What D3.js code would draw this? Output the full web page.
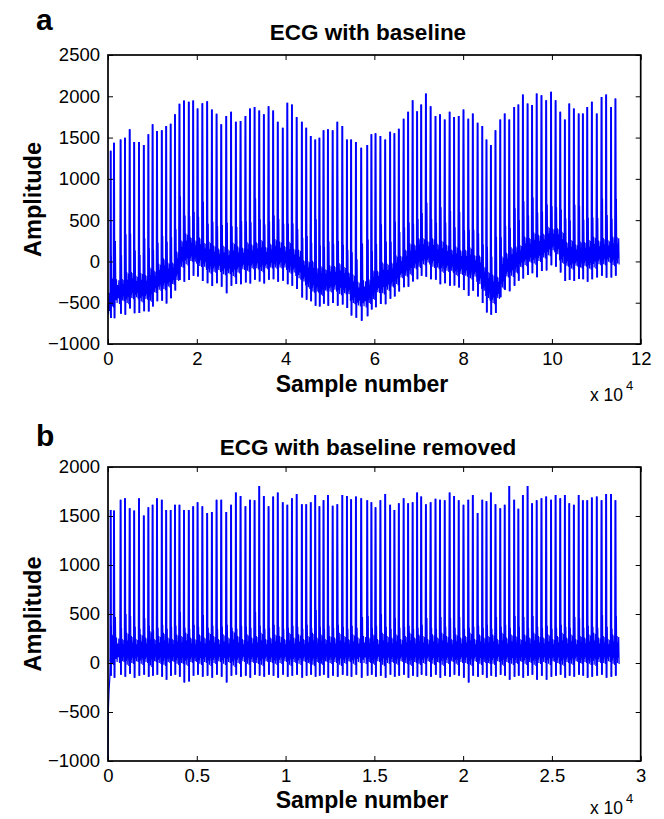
<!DOCTYPE html>
<html><head><meta charset="utf-8">
<script src="https://cdn.jsdelivr.net/npm/d3@7"></script>
<style>
body{margin:0;background:#fff}
svg{display:block}
text{font-family:"Liberation Sans",Arial,Helvetica,sans-serif;fill:#000}
</style>
</head><body>
<svg id="chart" width="664" height="819"></svg>
<script>
// ---------- DATA ----------
// R-peak sample positions in the baseline-removed record (panel b, x1e4 axis up to 3);
// panel a is the same recording at 4x the sampling.
const beatSampleB = [150,338,709,957,1220,1475,1745,2016,2275,2511,2759,3029,3277,3528,3772,4025,4279,4549,4797,5044,
 5315,5585,5850,6114,6379,6660,6931,7201,7465,7741,7995,8254,8518,8777,9042,9301,9560,9841,10100,10359,
 10624,10917,11164,11418,11671,11907,12138,12386,12651,12915,13197,13456,13692,13962,14261,14600,14835,15066,15342,15612,
 15888,16130,16378,16648,16902,17155,17408,17639,17903,18168,18444,18697,18962,19238,19491,19750,20020,20291,20544,20814,
 21079,21315,21563,21822,22092,22340,22599,22875,23112,23365,23629,23882,24141,24412,24677,24952,25206,25470,25729,25977,
 26236,26506,26743,26990,27249,27525,27795,28054,28330,28578];
const sampleFactorA = 4;
const endSampleB = 28798;

// Panel a: R-peak amplitudes
const rPeakA = [1339,1438,1478,1499,1600,1447,1447,1411,1540,1660,1579,1588,1640,1668,1781,1909,1949,1933,1949,1853,
 1917,1941,1841,1788,1660,1760,1812,1691,1700,1760,1853,1869,1828,1781,1880,1828,1691,1619,
 1921,1901,1748,1691,1619,1519,1478,1499,1588,1600,1588,1691,1640,1478,1478,1447,1378,1411,1540,1551,
 1519,1478,1571,1551,1608,1728,1812,1953,1820,1901,2034,1880,1760,1781,1720,1812,1750,
 1760,1841,1728,1793,1679,1640,1478,1411,1588,1720,1793,1720,1869,1901,2022,1913,1893,2034,2013,1953,
 2054,1953,1812,1720,1913,1853,1793,1793,1869,1933,1793,1990,2022,1869,1974];
// Panel a: wandering baseline (centre of the dense band) at each beat
const baseA = [-420,-400,-380,-370,-330,-340,-360,-350,-330,-280,-230,-200,-200,-180,-100,50,100,110,90,70,
 40,0,-10,-10,-30,-40,-30,-20,0,10,20,30,20,10,30,50,40,20,0,-30,
 -80,-150,-200,-230,-260,-280,-260,-250,-240,-260,-270,-300,-380,-430,-430,-400,-330,-280,-250,-230,
 -200,-150,-100,-60,-20,20,60,80,80,60,30,10,0,-20,-40,-50,-60,-70,-90,-150,
 -250,-330,-380,-350,-180,-80,-50,-20,30,80,100,110,120,150,200,230,200,120,50,40,
 40,40,50,40,60,70,80,90,80,90];
const startA = [[0,-520],[120,-640],[250,-380],[380,-600],[480,-450]];

// Panel b: R-peak amplitudes
const rPeakB = [1560,1555,1665,1680,1580,1555,1680,1505,1590,1615,1680,1665,1560,1560,1615,1615,1560,1560,1600,1640,
 1600,1530,1540,1665,1665,1540,1615,1740,1705,1600,1665,1660,1805,1705,1600,1700,1740,1640,1615,1680,
 1725,1620,1620,1640,1715,1600,1660,1715,1605,1620,1715,1705,1670,1700,1680,
 1660,1640,1590,1660,1725,1615,1560,1630,1680,1630,1640,1740,1700,1620,1640,1675,1665,1660,1740,1705,
 1660,1615,1665,1715,1530,1665,1650,1740,1620,1580,1615,1805,1665,1575,1715,1805,1630,1660,1680,1700,
 1665,1715,1680,1715,1630,1615,1715,1660,1660,1690,1700,1660,1725,1725,1660];
// S-wave troughs and T-wave tops (panel b units)
const sTroughB = [-130,-150,-120,-140,-110,-150,-130,-120,-140,-130,-120,-140,-170,-130,-120,-140,-200,-190,-130,-120,
 -140,-130,-150,-120,-140,-200,-130,-120,-140,-130,-150,-120,-130,-140,-120,-130,-150,-120,-140,-130,
 -120,-150,-130,-120,-140,-130,-120,-150,-130,-140,-120,-130,-140,-120,-150,
 -130,-120,-140,-130,-150,-120,-140,-130,-120,-150,-130,-140,-120,-130,-140,-120,-150,-130,-140,-120,
 -130,-150,-200,-130,-140,-120,-150,-130,-140,-120,-130,-170,-140,-130,-150,-130,-120,-170,-130,-170,
 -140,-130,-120,-150,-130,-140,-120,-130,-150,-140,-130,-120,-150,-140,-130];
const tWaveB = [380,470,360,500,480,370,350,460,380,340,360,390,350,370,380,520,360,350,390,370,
 490,360,380,350,370,390,360,350,380,370,360,520,380,350,360,390,370,350,360,380,
 370,350,390,360,540,370,350,380,360,390,370,350,380,360,470,
 480,360,380,500,370,350,460,360,370,380,350,360,390,460,360,350,470,370,460,360,
 470,350,360,370,380,360,390,350,470,370,390,360,480,370,470,360,480,370,360,380,
 350,360,390,370,360,470,460,360,380,370,360,490,370,350,480];
// Size of the small oscillations between beats (relative), estimated per beat
const noiseAmpB = [1.2,1.0,0.9,1.3,1.1,0.9,1.2,1.0,1.4,0.9,1.1,1.3,1.0,0.9,1.2,1.1,1.3,1.0,0.9,1.2,
 1.0,1.3,1.1,0.9,1.2,1.0,1.4,1.1,0.9,1.2,1.0,1.1,1.3,0.9,1.0,1.2,1.1,0.9,1.3,1.0,
 1.2,0.9,1.1,1.3,1.0,1.2,0.9,1.1,1.0,1.3,1.1,0.9,1.2,1.0,1.1,
 1.0,1.2,0.9,1.3,1.1,1.0,1.2,0.9,1.1,1.3,1.0,1.2,1.1,0.9,1.2,1.0,1.3,1.1,0.9,1.2,
 1.0,1.1,1.3,0.9,1.2,1.0,1.1,1.2,0.9,1.3,1.0,1.2,1.1,0.9,1.2,1.0,1.3,1.1,1.0,1.2,
 0.9,1.1,1.3,1.0,1.2,0.9,1.1,1.0,1.2,1.3,1.0,1.1,0.9,1.2,1.1];
const startB = [[0,-1000],[25,-450],[60,-280],[100,-160],[125,40]];

// Shape of one cardiac cycle between R peaks (fraction of RR interval, level); R/S/T come from the arrays above
const cycleFrac  = [-0.07, 0, 0.08, 0.15, 0.21, 0.29, 0.38, 0.47, 0.56, 0.65, 0.74, 0.83, 0.91];
const cycleLevel = [30, "R", "S", 210, "T", 40, 260, 10, 200, 60, 250, 0, 160];
const bandLevelB = 100;
const bandGainA = 1.15;
const tGainA = 1.75;

// Axes
const yTicksA = [-1000,-500,0,500,1000,1500,2000,2500];
const yTicksB = [-1000,-500,0,500,1000,1500,2000];
const xTicksA = [0,20000,40000,60000,80000,100000,120000];
const xTickLabelsA = ["0","2","4","6","8","10","12"];
const xTicksB = [0,5000,10000,15000,20000,25000,30000];
const xTickLabelsB = ["0","0.5","1","1.5","2","2.5","3"];

// ---------- BUILD ----------
function buildSeries(times, peaks, levelAt, start, endT) {
  const pts = start.slice();
  const spikes = [];
  const n = times.length;
  for (let i = 0; i < n; i++) {
    const t = times[i];
    const rr = i < n - 1 ? times[i + 1] - t : t - times[i - 1];
    const sp = [];
    for (let j = 0; j < cycleFrac.length; j++) {
      const tt = t + cycleFrac[j] * rr;
      if (tt > endT) break;
      const lv = cycleLevel[j];
      let v;
      if (lv === "R") v = peaks[i];
      else if (lv === "S") v = levelAt(i, sTroughB[i], "S");
      else if (lv === "T") v = levelAt(i, tWaveB[i], "T");
      else v = levelAt(i, bandLevelB + noiseAmpB[i] * (lv - bandLevelB), "N");
      pts.push([tt, v]);
      if (j <= 2) sp.push([tt, v]);
    }
    spikes.push(sp);
  }
  return {pts, spikes};
}
const seriesA = buildSeries(beatSampleB.map(d => d * sampleFactorA), rPeakA,
  (i, lv, kind) => baseA[i] + (kind === "T" ? tGainA : bandGainA) * (lv - bandLevelB),
  startA, endSampleB * sampleFactorA);
const seriesB = buildSeries(beatSampleB, rPeakB, (i, lv) => lv, startB, endSampleB);

const svg = d3.select("#chart");
const L = 108, R = 640.7;

const panels = [
  {letter:"a", title:"ECG with baseline", top:55, bottom:344, xMax:120000, yDom:[-1000,2500],
   yTicks:yTicksA, xTicks:xTicksA, xLabels:xTickLabelsA, data:seriesA,
   letterY:30, titleY:40, xlabY:392, expY:401},
  {letter:"b", title:"ECG with baseline removed", top:467, bottom:761, xMax:30000, yDom:[-1000,2000],
   yTicks:yTicksB, xTicks:xTicksB, xLabels:xTickLabelsB, data:seriesB,
   letterY:446, titleY:455, xlabY:808, expY:814}
];

panels.forEach(p => {
  const x = d3.scaleLinear().domain([0, p.xMax]).range([L, R]);
  const y = d3.scaleLinear().domain(p.yDom).range([p.bottom, p.top]);
  const g = svg.append("g");
  const line = d3.line().x(d => x(d[0])).y(d => y(d[1]));

  g.append("path")
    .datum(p.data.pts)
    .attr("fill", "none")
    .attr("stroke", "#0000ff")
    .attr("stroke-width", 1.2)
    .attr("stroke-linejoin", "miter")
    .attr("stroke-miterlimit", 2)
    .attr("d", line);
  g.append("g").selectAll("path").data(p.data.spikes).join("path")
    .attr("fill", "none")
    .attr("stroke", "#0000ff")
    .attr("stroke-width", 1.9)
    .attr("stroke-linejoin", "miter")
    .attr("stroke-miterlimit", 2)
    .attr("d", line);

  const fmtX = d => p.xLabels[p.xTicks.indexOf(d)];
  const ax = sel => { sel.select(".domain").remove(); sel.selectAll("line").attr("stroke", "#000"); return sel; };

  g.append("g").attr("transform", `translate(0,${p.bottom})`)
    .call(d3.axisBottom(x).tickValues(p.xTicks).tickSize(-5).tickPadding(8).tickFormat(fmtX))
    .call(ax).selectAll("text").attr("font-size", 18.5).attr("font-family", '"Liberation Sans", Arial, sans-serif');
  g.append("g").attr("transform", `translate(0,${p.top})`)
    .call(d3.axisTop(x).tickValues(p.xTicks).tickSize(-5).tickFormat(""))
    .call(ax);
  g.append("g").attr("transform", `translate(${L},0)`)
    .call(d3.axisLeft(y).tickValues(p.yTicks).tickSize(-5).tickPadding(8).tickFormat(d3.format("d")))
    .call(ax).selectAll("text").attr("font-size", 18.5).attr("font-family", '"Liberation Sans", Arial, sans-serif');
  g.append("g").attr("transform", `translate(${R},0)`)
    .call(d3.axisRight(y).tickValues(p.yTicks).tickSize(-5).tickFormat(""))
    .call(ax);

  g.append("rect").attr("x", L).attr("y", p.top).attr("width", R - L).attr("height", p.bottom - p.top)
    .attr("fill", "none").attr("stroke", "#000").attr("stroke-width", 1.7);

  g.append("text").attr("x", 36).attr("y", p.letterY).attr("font-size", 30).attr("font-weight", "bold").text(p.letter);
  g.append("text").attr("x", 368).attr("y", p.titleY).attr("text-anchor", "middle")
    .attr("font-size", 22.5).attr("font-weight", "bold").text(p.title);
  g.append("text").attr("x", 362).attr("y", p.xlabY).attr("text-anchor", "middle")
    .attr("font-size", 23).attr("font-weight", "bold").text("Sample number");
  g.append("text").attr("transform", `translate(41,${(p.top + p.bottom) / 2}) rotate(-90)`)
    .attr("text-anchor", "middle").attr("font-size", 23.5).attr("font-weight", "bold").text("Amplitude");
  const ex = g.append("text").attr("x", 590).attr("y", p.expY).attr("font-size", 17.5);
  ex.append("tspan").text("x 10");
  ex.append("tspan").attr("dy", -11).attr("dx", 3).attr("font-size", 13).text("4");
});
</script>
</body></html>
